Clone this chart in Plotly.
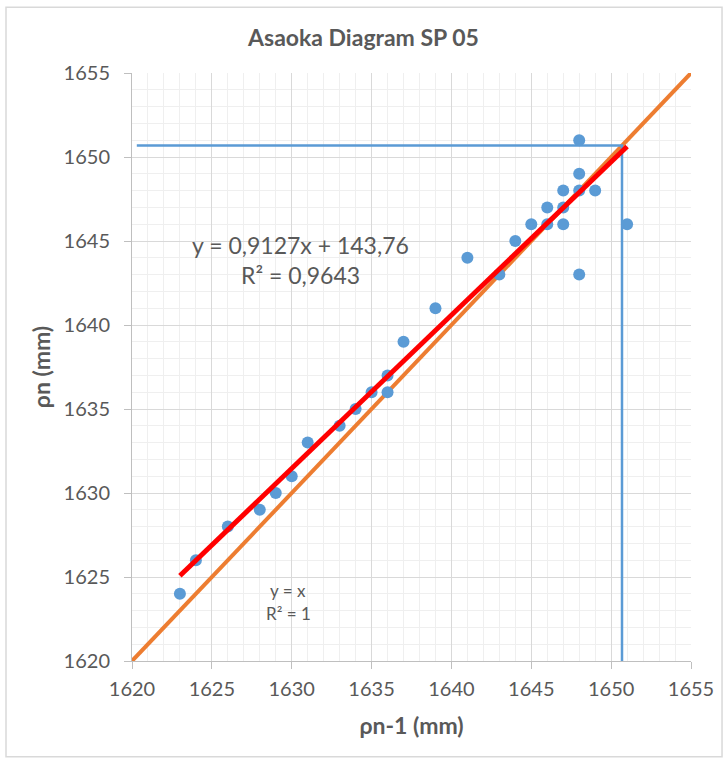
import plotly.graph_objects as go

# data
pn_1 = [1623, 1624, 1626, 1628, 1629, 1630, 1631, 1633, 1634, 1635, 1636, 1636, 1637, 1639,
        1641, 1643, 1644, 1645, 1646, 1646, 1647, 1647, 1647, 1648, 1648, 1648, 1648, 1649, 1651]
pn = [1624, 1626, 1628, 1629, 1630, 1631, 1633, 1634, 1635, 1636, 1636, 1637, 1639, 1641,
      1644, 1643, 1645, 1646, 1646, 1647, 1646, 1647, 1648, 1648, 1649, 1651, 1643, 1648, 1646]

slope = 0.9127
intercept = 143.76
trend_x = [1623, 1651]
identity_x = [1620, 1655]
asymptote = 1650.68
guide_start = 1620.3
axis_min, axis_max = 1620, 1655
ticks = [1620, 1625, 1630, 1635, 1640, 1645, 1650, 1655]

FONT = "Lato"
TXT = "#595959"

fig = go.Figure()

# y = x line
fig.add_trace(go.Scatter(x=identity_x, y=identity_x, mode="lines",
                         line=dict(color="#ed7d31", width=4), hoverinfo="skip"))
# guide lines
fig.add_trace(go.Scatter(x=[guide_start, asymptote, asymptote], y=[asymptote, asymptote, axis_min],
                         mode="lines", line=dict(color="#5b9bd5", width=2.5), hoverinfo="skip"))
# data points
fig.add_trace(go.Scatter(x=pn_1, y=pn, mode="markers",
                         marker=dict(color="#5b9bd5", size=12)))
# trendline
fig.add_trace(go.Scatter(x=trend_x, y=[slope * v + intercept for v in trend_x], mode="lines",
                         line=dict(color="#ff0000", width=5), hoverinfo="skip"))

axis_common = dict(
    range=[axis_min, axis_max], tickvals=ticks, ticktext=[str(t) for t in ticks],
    showgrid=True, gridcolor="#d9d9d9", gridwidth=1,
    minor=dict(dtick=1, showgrid=True, gridcolor="#efefef", gridwidth=1, ticks=""),
    showline=True, linecolor="#bfbfbf", linewidth=1,
    ticks="outside", ticklen=7, tickcolor="#bfbfbf",
    tickfont=dict(family=FONT, size=20, color=TXT),
    zeroline=False, fixedrange=True,
)

fig.update_xaxes(**axis_common, ticklabelstandoff=3,
                 title=dict(text="ρn-1 (mm)", font=dict(family=FONT, size=23, color=TXT, weight="bold"), standoff=18))
fig.update_yaxes(**axis_common, ticklabelstandoff=10,
                 title=dict(text="ρn (mm)", font=dict(family=FONT, size=23, color=TXT, weight="bold"), standoff=6))

fig.update_layout(
    width=727, height=758,
    margin=dict(l=132, r=36, t=73, b=97),
    paper_bgcolor="white", plot_bgcolor="white",
    showlegend=False,
    title=dict(text="Asaoka Diagram SP 05", x=0.5, xanchor="center", y=1 - 38 / 758, yanchor="middle",
               font=dict(family=FONT, size=23, color=TXT, weight="bold")),
    annotations=[
        dict(x=1630.58, y=1644.76, xref="x", yref="y", text="y = 0,9127x + 143,76", showarrow=False,
             font=dict(family=FONT, size=23, color=TXT)),
        dict(x=1630.58, y=1642.98, xref="x", yref="y", text="R² = 0,9643", showarrow=False,
             font=dict(family=FONT, size=23, color=TXT)),
        dict(x=1629.77, y=1624.2, xref="x", yref="y", text="y = x", showarrow=False,
             font=dict(family=FONT, size=17, color=TXT)),
        dict(x=1629.77, y=1622.85, xref="x", yref="y", text="R² = 1", showarrow=False,
             font=dict(family=FONT, size=17, color=TXT)),
    ],
    shapes=[dict(type="rect", xref="paper", yref="paper", x0=-0.2254, x1=1.0555, y0=-0.163, y1=1.112,
                 line=dict(color="#d9d9d9", width=1.5), fillcolor="rgba(0,0,0,0)", layer="below")],
)

fig.write_html("out.html")
